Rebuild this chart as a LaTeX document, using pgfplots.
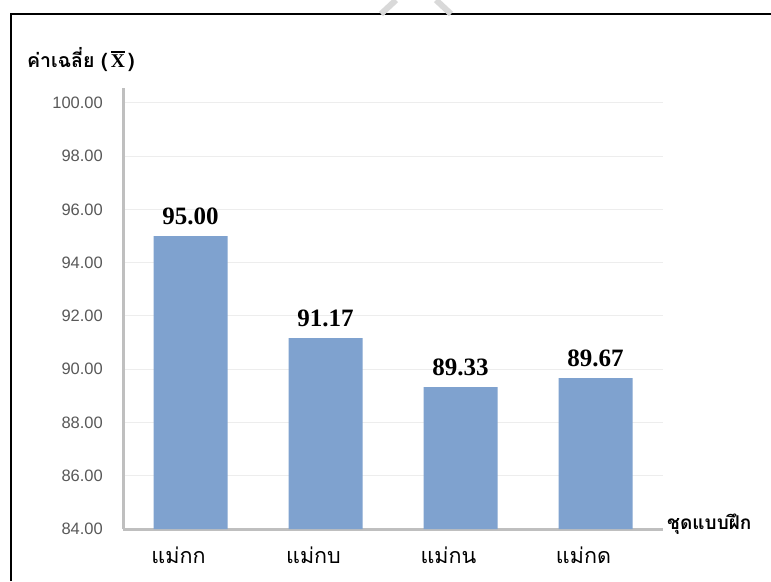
\documentclass[border=0pt]{standalone}
\usepackage{pgfplots}
\pgfplotsset{compat=1.18}
\usepackage{fontspec}
\setmainfont{Liberation Sans}
\newfontfamily\thai[Script=Thai]{Loma}
\newfontfamily\numfont{Liberation Serif}
\definecolor{barblue}{HTML}{7FA2CF}
\definecolor{axgray}{HTML}{BFBFBF}
\definecolor{gridgray}{HTML}{EDEDED}
\definecolor{ticktext}{HTML}{595959}
\newcommand{\xbar}{{\numfont\bfseries\makebox[0pt][l]{\raisebox{0.78em}{\rule{0.72em}{1.3pt}}}X}}
\begin{document}
\begin{tikzpicture}[x=1pt,y=1pt]
  \useasboundingbox (0,0) rectangle (771,581);
  \fill[white] (0,0) rectangle (771,581);
  % frame of the scanned page
  \draw[line width=1.6pt,black] (11,0) -- (11,567) -- (771,567);
  % watermark remnant
  \draw[line width=6pt,gray!30] (381,567) -- (396,581);
  \draw[line width=6pt,gray!30] (436,581) -- (451,567);
  \begin{axis}[
    at={(123pt,52pt)}, anchor=south west,
    scale only axis,
    width=540pt, height=441pt,
    xmin=-0.5, xmax=3.5,
    ymin=84, ymax=100.56,
    ytick={84,86,...,100},
    xtick={0,1,2,3},
    xticklabels={แม่กก,แม่กบ,แม่กน,แม่กด},
    axis x line=bottom, axis y line=left,
    axis line style={draw=axgray, line width=3pt, -},
    major tick length=0pt,
    ymajorgrids,
    major grid style={draw=gridgray, line width=1pt},
    /pgf/number format/assume math mode=true,
    yticklabel={\pgfmathprintnumber[fixed,zerofill,precision=2]{\tick}},
    yticklabel style={font=\fontsize{16.5}{16.5}\selectfont, text=ticktext,
      anchor=east, inner sep=0pt, xshift=-20pt},
    xticklabel style={font=\thai\fontsize{21.5}{21.5}\selectfont, text=black,
      anchor=base, inner sep=0pt, yshift=-34pt, xshift=-12pt},
    ybar, bar width=74pt,
    nodes near coords={\pgfmathprintnumber[fixed,zerofill,precision=2]{\pgfplotspointmeta}},
    nodes near coords style={font=\numfont\bfseries\fontsize{25}{25}\selectfont,
      text=black, anchor=base, inner sep=0pt, yshift=12pt},
    clip=false,
  ]
    \addplot[fill=barblue, draw=none] coordinates {
      (0, 95.00)
      (1, 91.17)
      (2, 89.33)
      (3, 89.67)
    };
  \end{axis}
  % axis titles
  \node[anchor=west, inner sep=0pt] at (27,521)
    {\thai\bfseries\fontsize{19.5}{19.5}\selectfont ค่าเฉลี่ย (\,\xbar\,)};
  \node[anchor=west, inner sep=0pt] at (667,57)
    {\thai\bfseries\fontsize{19}{19}\selectfont ชุดแบบฝึก};
\end{tikzpicture}
\end{document}
